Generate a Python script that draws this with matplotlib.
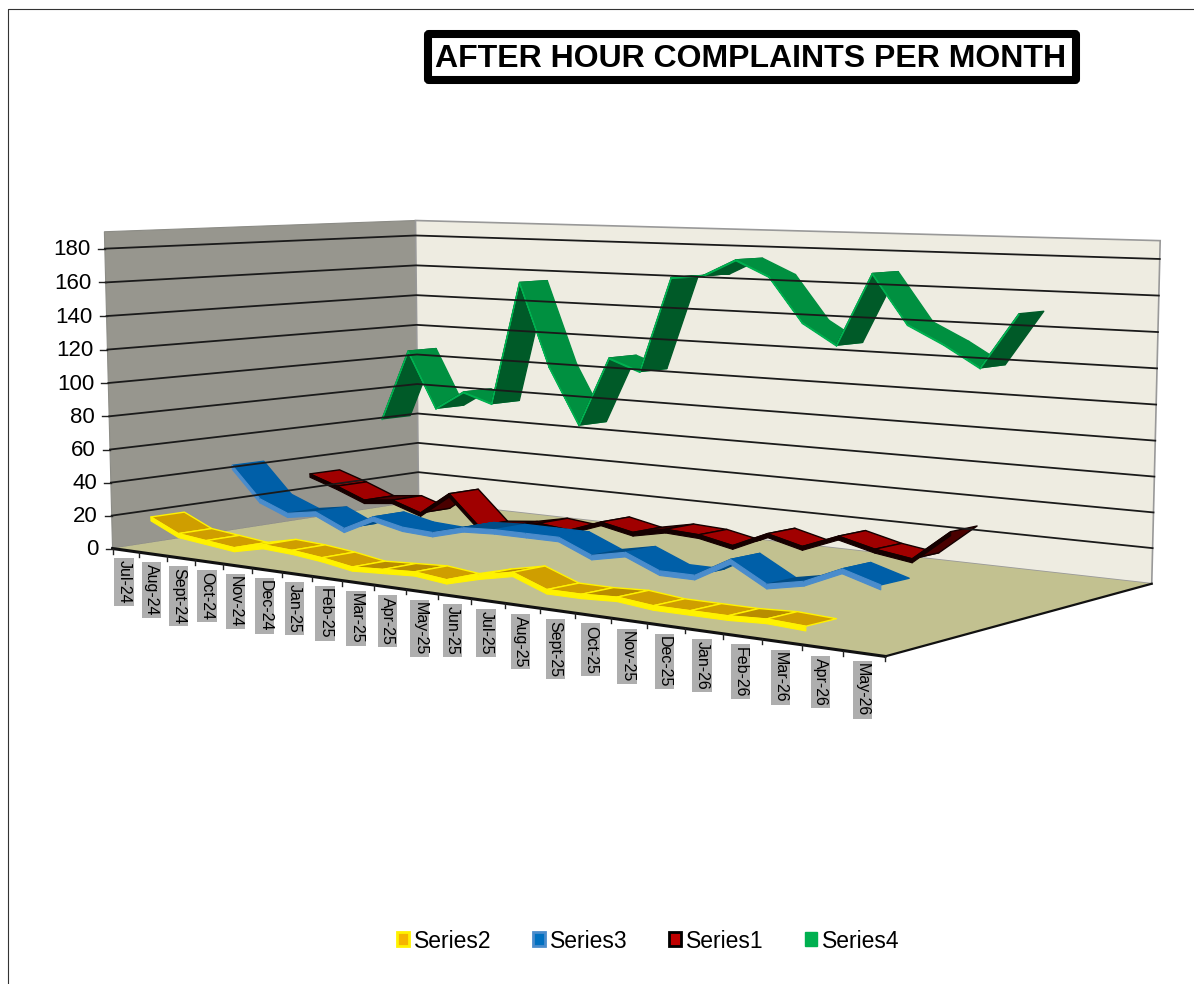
"""
After hour complaints per month, Excel style 3D ribbon line chart
"""
import matplotlib
matplotlib.use("Agg")
import matplotlib.pyplot as plt
import numpy as np
from matplotlib.patches import FancyBboxPatch, Patch

plt.rcParams['font.family'] = ['Liberation Sans', 'DejaVu Sans']

months = ['Jul-24', 'Aug-24', 'Sept-24', 'Oct-24', 'Nov-24', 'Dec-24', 'Jan-25', 'Feb-25',
          'Mar-25', 'Apr-25', 'May-25', 'Jun-25', 'Jul-25', 'Aug-25', 'Sept-25', 'Oct-25',
          'Nov-25', 'Dec-25', 'Jan-26', 'Feb-26', 'Mar-26', 'Apr-26', 'May-26']
value_ticks = [0, 20, 40, 60, 80, 100, 120, 140, 160, 180]

series2 = [18, 10, 8, 6, 10, 9, 7, 4, 5, 6, 4, 9, 13, 6, 6, 7, 5, 5, 5, 6, 5]
series3 = [43, 24, 17, 20, 12, 21, 17, 16, 21, 22, 22, 22, 14, 18, 10, 10, 21, 10, 14, 23, 17]
series1 = [31, 25, 18, 20, 14, 28, 10, 12, 16, 14, 21, 17, 21, 20, 16, 25, 20, 28, 23, 20, 37]
series4 = [61, 107, 71, 83, 77, 155, 103, 68, 111, 104, 162, 164, 174, 165, 139, 127, 169, 141, 131, 119, 150]

# top of the value axis
VMAX = 190

# box corners on screen: (category, depth, height) -> pixel
CORNERS = [((0, 0, 0), (113, 547)), ((0, 1, 0), (418, 503)), ((1, 1, 0), (1152, 582)),
           ((1, 0, 0), (885, 658)), ((0, 0, 1), (104, 232)), ((0, 1, 1), (416, 220)),
           ((1, 1, 1), (1160, 241))]


def fit_camera(corners):
    rows = []
    for (x, y, z), (u, v) in corners:
        rows.append([x, y, z, 1, 0, 0, 0, 0, -u * x, -u * y, -u * z, -u])
        rows.append([0, 0, 0, 0, x, y, z, 1, -v * x, -v * y, -v * z, -v])
    return np.linalg.svd(np.array(rows, dtype=float))[2][-1].reshape(3, 4)


CAM = fit_camera(CORNERS)


def project(x, y, z):
    p = CAM @ np.array([x, y, z, 1.0])
    return p[0] / p[2], p[1] / p[2]


def cat_pos(i):
    return (i + 0.5) / len(months)


def ribbon(ax, values, band, fill, dark, edge, thick, outline=None):
    """One ribbon per series: top face plus a thin front side below it"""
    d0 = (band + 0.5) / 4 - 0.05
    d1 = (band + 0.5) / 4 + 0.05
    for i in range(len(values) - 1):
        a, b = values[i] / VMAX, values[i + 1] / VMAX
        x0, x1 = cat_pos(i), cat_pos(i + 1)
        quad = [project(x0, d0, a), project(x1, d0, b), project(x1, d1, b), project(x0, d1, a)]
        side = [project(x0, d0, a), project(x1, d0, b),
                project(x1, d0, b - thick / VMAX), project(x0, d0, a - thick / VMAX)]
        color = dark if b > a else fill
        ax.fill(*zip(*quad), facecolor=color, edgecolor=outline or color, linewidth=1.0, joinstyle='round')
        ax.fill(*zip(*side), facecolor=edge, edgecolor=edge, linewidth=0.8, joinstyle='round')


fig = plt.figure(figsize=(11.94, 9.84), dpi=100)
ax = fig.add_axes([0, 0, 1, 1])
ax.set_xlim(0, 1194)
ax.set_ylim(984, 0)
ax.axis('off')

# chart area border
ax.plot([8, 8, 1194], [984, 9, 9], color='#333333', lw=0.8)

# walls and floor
A, B, C, D = project(0, 0, 0), project(0, 1, 0), project(1, 1, 0), project(1, 0, 0)
E, F, G = project(0, 0, 1), project(0, 1, 1), project(1, 1, 1)
ax.fill(*zip(A, B, F, E), facecolor='#97968E', edgecolor='#8c8c86', lw=0.8)
ax.fill(*zip(B, C, G, F), facecolor='#EEECE1', edgecolor='#999999', lw=1.2)
ax.fill(*zip(A, B, C, D), facecolor='#C2C190', edgecolor='none')

# gridlines
for v in value_ticks[1:]:
    z = v / VMAX
    p0, p1, p2 = project(0, 0, z), project(0, 1, z), project(1, 1, z)
    ax.plot([p0[0], p1[0], p2[0]], [p0[1], p1[1], p2[1]], color='#1a1a1a', lw=1.3)

# floor edges
ax.plot([A[0], D[0]], [A[1], D[1]], color='#111111', lw=2.2)
ax.plot([D[0], C[0]], [D[1], C[1]], color='#111111', lw=1.6)

# value axis
for v in value_ticks:
    px, py = project(0, 0, v / VMAX)
    ax.plot([px - 7, px], [py, py], color='#222222', lw=1)
    ax.text(px - 14, py + 1, str(v), ha='right', va='center', fontsize=16, color='black')

# category axis
for i in range(len(months) + 1):
    px, py = project(i / len(months), 0, 0)
    ax.plot([px, px], [py, py + 5], color='#222222', lw=1)
for i, label in enumerate(months):
    px, py = project(cat_pos(i), 0, 0)
    ax.text(px - 2, py + 10, label, rotation=270, ha='center', va='top', fontsize=11.5,
            color='black', bbox=dict(facecolor='#AEAEAE', edgecolor='none', pad=1.5))

# ribbons, back to front
ribbon(ax, series4, 3, '#009040', '#005A28', '#00B050', 0.6)
ribbon(ax, series1, 2, '#A00000', '#4A0000', '#150000', 2.2, outline='#150000')
ribbon(ax, series3, 1, '#005FA8', '#004C86', '#4A8CCC', 2.6)
ribbon(ax, series2, 0, '#CF9E00', '#B88C00', '#FFF200', 2.4, outline='#FFF200')

# title box
ax.add_patch(FancyBboxPatch((428, 34), 648, 46, boxstyle='round,pad=0,rounding_size=1',
                            facecolor='white', edgecolor='black', linewidth=5.8))
ax.text(751, 59, 'AFTER HOUR COMPLAINTS PER MONTH', ha='center', va='center',
        fontsize=23, fontweight='bold', color='black')

handles = [Patch(facecolor='#F5B400', edgecolor='#FFF200', lw=2, label='Series2'),
           Patch(facecolor='#0070C0', edgecolor='#4A8CCC', lw=2, label='Series3'),
           Patch(facecolor='#C00000', edgecolor='black', lw=2, label='Series1'),
           Patch(facecolor='#00B050', edgecolor='#00B050', lw=1, label='Series4')]
fig.legend(handles=handles, loc='center', bbox_to_anchor=(648 / 1194, 1 - 941 / 984), ncol=4,
           frameon=False, fontsize=16.5, handlelength=0.55, handleheight=0.55,
           handletextpad=0.2, columnspacing=1.8)

plt.savefig('out.png', dpi=100)
